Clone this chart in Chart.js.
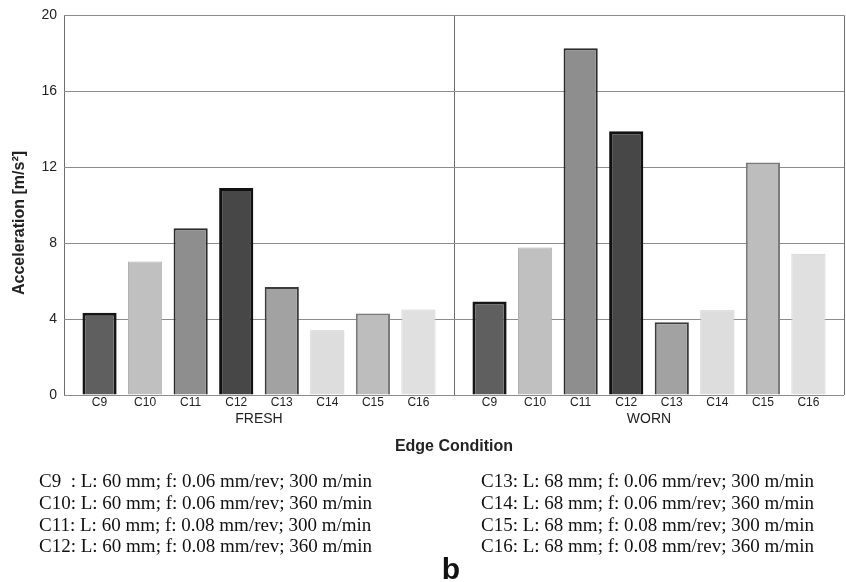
<!DOCTYPE html>
<html>
<head>
<meta charset="utf-8">
<script src="https://cdn.jsdelivr.net/npm/chart.js@4.4.1/dist/chart.umd.min.js"></script>
<style>
    html, body { margin: 0; padding: 0; background: #fff; }
    #wrap { position: relative; width: 846px; height: 582px; }
    #chart { position: absolute; left: 0; top: 0; }
    .notes { position: absolute; top: 470px; font: 19px "Liberation Serif", "Times New Roman", serif; line-height: 21.8px; color: #111; white-space: pre; }
    #panel { position: absolute; left: 436px; top: 554px; width: 30px; text-align: center; font: bold 30px "Liberation Sans", Arial, sans-serif; line-height: 30px; color: #111; }
</style>
</head>
<body>
<div id="wrap">
    <canvas id="chart" width="846" height="582"></canvas>
    <div class="notes" id="notesLeft" style="left:39px"></div>
    <div class="notes" id="notesRight" style="left:481px"></div>
    <div id="panel">b</div>
</div>
<script>
    // chart data
    const configs = ['C9', 'C10', 'C11', 'C12', 'C13', 'C14', 'C15', 'C16'];
    const groups = ['FRESH', 'WORN'];
    const freshValues = [4.34, 7.03, 8.78, 10.9, 5.69, 3.41, 4.29, 4.5];
    const wornValues = [4.93, 7.77, 18.27, 13.9, 3.83, 4.46, 12.25, 7.44];
    const yTicks = [0, 4, 8, 12, 16, 20];
    const notesLeft = [
        'C9  : L: 60 mm; f: 0.06 mm/rev; 300 m/min',
        'C10: L: 60 mm; f: 0.06 mm/rev; 360 m/min',
        'C11: L: 60 mm; f: 0.08 mm/rev; 300 m/min',
        'C12: L: 60 mm; f: 0.08 mm/rev; 360 m/min'
    ];
    const notesRight = [
        'C13: L: 68 mm; f: 0.06 mm/rev; 300 m/min',
        'C14: L: 68 mm; f: 0.06 mm/rev; 360 m/min',
        'C15: L: 68 mm; f: 0.08 mm/rev; 300 m/min',
        'C16: L: 68 mm; f: 0.08 mm/rev; 360 m/min'
    ];

    // bar styles per condition
    const fills = ['#5f5f5f', '#c0c0c0', '#8e8e8e', '#474747', '#a2a2a2', '#dcdddc', '#bdbdbd', '#e0e0e0'];
    const borders = ['#161616', '#b0b0b0', '#2a2a2a', '#111111', '#3c3c3c', '#c8c8c8', '#7a7a7a', '#cfcfcf'];
    const borderWidths = [3, 1, 2, 3, 2, 1, 2, 1];

    // each group: 8 slots plus a little padding either side
    const groupPad = 0.28;
    const groupSpan = configs.length + 2 * groupPad;
    const slotX = (g, i) => g * groupSpan + groupPad + 0.5 + i;

    const tickPositions = [];
    const tickLabels = [];
    groups.forEach((g, gi) => configs.forEach((c, i) => {
        tickPositions.push(slotX(gi, i));
        tickLabels.push(c);
    }));

    function series(values, gi) {
        return values.map((v, i) => ({ x: slotX(gi, i), y: v }));
    }

    document.getElementById('notesLeft').textContent = notesLeft.join('\n');
    document.getElementById('notesRight').textContent = notesRight.join('\n');

    const ctx = document.getElementById('chart').getContext('2d');
    const chart = new Chart(ctx, {
        type: 'bar',
        data: {
            datasets: groups.map((g, gi) => ({
                label: g,
                data: series(gi === 0 ? freshValues : wornValues, gi),
                backgroundColor: fills,
                borderColor: borders,
                borderWidth: borderWidths,
                barPercentage: 0.75,
                categoryPercentage: 1
            }))
        },
        options: {
            responsive: false,
            animation: false,
            layout: { padding: { top: 6, right: 2, bottom: 126, left: 0 } },
            plugins: { legend: { display: false }, tooltip: { enabled: false } },
            scales: {
                x: {
                    type: 'linear',
                    stacked: true,
                    offset: false,
                    min: 0,
                    max: 2 * groupSpan,
                    weight: 0,
                    afterBuildTicks: s => { s.ticks = tickPositions.map(v => ({ value: v })); },
                    afterFit: s => { s.height = 15; },
                    grid: { display: false, offset: false, drawTicks: false },
                    border: { display: false },
                    ticks: {
                        autoSkip: false,
                        maxRotation: 0,
                        padding: 0,
                        color: '#222',
                        font: { family: '"Liberation Sans Narrow", "Arial Narrow", "Liberation Sans", sans-serif', size: 12 },
                        callback: (v, i) => tickLabels[i]
                    }
                },
                x2: {
                    type: 'category',
                    position: 'bottom',
                    labels: groups,
                    offset: true,
                    weight: 1,
                    afterFit: s => { s.height = 46; },
                    grid: { offset: true, color: '#6e6e6e', drawTicks: false },
                    border: { display: false },
                    ticks: { padding: 1, color: '#222', font: { family: '"Liberation Sans", Arial, sans-serif', size: 14 } },
                    title: {
                        display: true,
                        text: 'Edge Condition',
                        color: '#222',
                        padding: { top: 0, bottom: 0 },
                        font: { family: '"Liberation Sans", Arial, sans-serif', size: 16, weight: 'bold' }
                    }
                },
                y: {
                    min: 0,
                    max: 20,
                    afterBuildTicks: s => { s.ticks = yTicks.map(v => ({ value: v })); },
                    afterFit: s => { s.width = 64; },
                    grid: { color: '#8c8c8c', drawTicks: false },
                    border: { display: false },
                    ticks: { padding: 7, color: '#222', font: { family: '"Liberation Sans", Arial, sans-serif', size: 14 } },
                    title: {
                        display: true,
                        text: 'Acceleration [m/s²]        ',
                        color: '#222',
                        padding: { top: 10, bottom: 0 },
                        font: { family: '"Liberation Sans", Arial, sans-serif', size: 16, weight: 'bold' }
                    }
                }
            }
        }
    });
</script>
</body>
</html>
